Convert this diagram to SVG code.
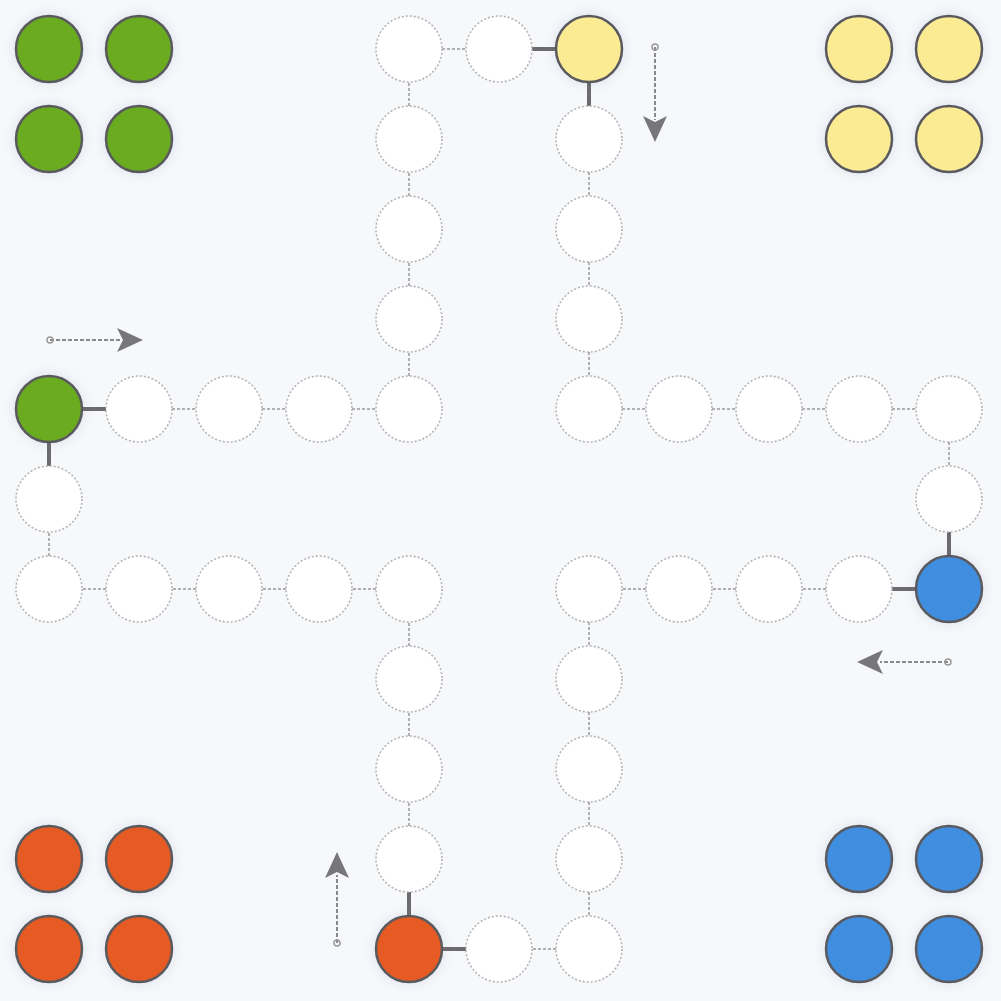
<svg xmlns="http://www.w3.org/2000/svg" width="1001" height="1001" viewBox="0 0 1001 1001">
<defs>
<style>
.f{fill:#ffffff;stroke:#b4b4b8;stroke-width:1.6;stroke-dasharray:2 2}
.s{stroke:#5a5a5e;stroke-width:2.5}
.g{fill:#6aab1f}.y{fill:#fbeb92}.b{fill:#3f8ee0}.r{fill:#e65a24}
.c{stroke:#b0b0b4;stroke-width:2;stroke-dasharray:3 2}
.d{stroke:#6c6c70;stroke-width:4}
.a{stroke:#8a8a8e;stroke-width:2;stroke-dasharray:4 2;fill:none}
.h{fill:#777779}
</style>
<filter id="sh" x="-50%" y="-50%" width="200%" height="200%"><feGaussianBlur stdDeviation="6"/></filter>
</defs>
<rect width="1001" height="1001" fill="#f7f8fa"/>
<g id="glow" fill="#dfe6f0" filter="url(#sh)">
<circle cx="49" cy="49" r="36"/><circle cx="139" cy="49" r="36"/><circle cx="49" cy="139" r="36"/><circle cx="139" cy="139" r="36"/>
<circle cx="859" cy="49" r="36"/><circle cx="949" cy="49" r="36"/><circle cx="859" cy="139" r="36"/><circle cx="949" cy="139" r="36"/>
<circle cx="49" cy="859" r="36"/><circle cx="139" cy="859" r="36"/><circle cx="49" cy="949" r="36"/><circle cx="139" cy="949" r="36"/>
<circle cx="859" cy="859" r="36"/><circle cx="949" cy="859" r="36"/><circle cx="859" cy="949" r="36"/><circle cx="949" cy="949" r="36"/>
<circle cx="49" cy="409" r="36"/><circle cx="589" cy="49" r="36"/><circle cx="949" cy="589" r="36"/><circle cx="409" cy="949" r="36"/>
</g>
<g id="connectors">
<line class="d" x1="82" y1="409" x2="106" y2="409"/>
<line class="c" x1="172" y1="409" x2="196" y2="409"/>
<line class="c" x1="262" y1="409" x2="286" y2="409"/>
<line class="c" x1="352" y1="409" x2="376" y2="409"/>
<line class="c" x1="409" y1="376" x2="409" y2="352"/>
<line class="c" x1="409" y1="286" x2="409" y2="262"/>
<line class="c" x1="409" y1="196" x2="409" y2="172"/>
<line class="c" x1="409" y1="106" x2="409" y2="82"/>
<line class="c" x1="442" y1="49" x2="466" y2="49"/>
<line class="d" x1="532" y1="49" x2="556" y2="49"/>
<line class="d" x1="589" y1="82" x2="589" y2="106"/>
<line class="c" x1="589" y1="172" x2="589" y2="196"/>
<line class="c" x1="589" y1="262" x2="589" y2="286"/>
<line class="c" x1="589" y1="352" x2="589" y2="376"/>
<line class="c" x1="622" y1="409" x2="646" y2="409"/>
<line class="c" x1="712" y1="409" x2="736" y2="409"/>
<line class="c" x1="802" y1="409" x2="826" y2="409"/>
<line class="c" x1="892" y1="409" x2="916" y2="409"/>
<line class="c" x1="949" y1="442" x2="949" y2="466"/>
<line class="d" x1="949" y1="532" x2="949" y2="556"/>
<line class="d" x1="916" y1="589" x2="892" y2="589"/>
<line class="c" x1="826" y1="589" x2="802" y2="589"/>
<line class="c" x1="736" y1="589" x2="712" y2="589"/>
<line class="c" x1="646" y1="589" x2="622" y2="589"/>
<line class="c" x1="589" y1="622" x2="589" y2="646"/>
<line class="c" x1="589" y1="712" x2="589" y2="736"/>
<line class="c" x1="589" y1="802" x2="589" y2="826"/>
<line class="c" x1="589" y1="892" x2="589" y2="916"/>
<line class="c" x1="556" y1="949" x2="532" y2="949"/>
<line class="d" x1="466" y1="949" x2="442" y2="949"/>
<line class="d" x1="409" y1="916" x2="409" y2="892"/>
<line class="c" x1="409" y1="826" x2="409" y2="802"/>
<line class="c" x1="409" y1="736" x2="409" y2="712"/>
<line class="c" x1="409" y1="646" x2="409" y2="622"/>
<line class="c" x1="376" y1="589" x2="352" y2="589"/>
<line class="c" x1="286" y1="589" x2="262" y2="589"/>
<line class="c" x1="196" y1="589" x2="172" y2="589"/>
<line class="c" x1="106" y1="589" x2="82" y2="589"/>
<line class="c" x1="49" y1="556" x2="49" y2="532"/>
<line class="d" x1="49" y1="466" x2="49" y2="442"/>
</g>
<g id="home-green"><circle class="g s" cx="49" cy="49" r="33"/><circle class="g s" cx="139" cy="49" r="33"/><circle class="g s" cx="49" cy="139" r="33"/><circle class="g s" cx="139" cy="139" r="33"/></g>
<g id="home-yellow"><circle class="y s" cx="859" cy="49" r="33"/><circle class="y s" cx="949" cy="49" r="33"/><circle class="y s" cx="859" cy="139" r="33"/><circle class="y s" cx="949" cy="139" r="33"/></g>
<g id="home-red"><circle class="r s" cx="49" cy="859" r="33"/><circle class="r s" cx="139" cy="859" r="33"/><circle class="r s" cx="49" cy="949" r="33"/><circle class="r s" cx="139" cy="949" r="33"/></g>
<g id="home-blue"><circle class="b s" cx="859" cy="859" r="33"/><circle class="b s" cx="949" cy="859" r="33"/><circle class="b s" cx="859" cy="949" r="33"/><circle class="b s" cx="949" cy="949" r="33"/></g>
<g id="start-green"><circle class="g s" cx="49" cy="409" r="33"/></g>
<g id="start-yellow"><circle class="y s" cx="589" cy="49" r="33"/></g>
<g id="start-blue"><circle class="b s" cx="949" cy="589" r="33"/></g>
<g id="start-red"><circle class="r s" cx="409" cy="949" r="33"/></g>
<g id="track">
<circle class="f" cx="139" cy="409" r="33"/><circle class="f" cx="229" cy="409" r="33"/><circle class="f" cx="319" cy="409" r="33"/><circle class="f" cx="409" cy="409" r="33"/>
<circle class="f" cx="409" cy="319" r="33"/><circle class="f" cx="409" cy="229" r="33"/><circle class="f" cx="409" cy="139" r="33"/><circle class="f" cx="409" cy="49" r="33"/>
<circle class="f" cx="499" cy="49" r="33"/>
<circle class="f" cx="589" cy="139" r="33"/><circle class="f" cx="589" cy="229" r="33"/><circle class="f" cx="589" cy="319" r="33"/><circle class="f" cx="589" cy="409" r="33"/>
<circle class="f" cx="679" cy="409" r="33"/><circle class="f" cx="769" cy="409" r="33"/><circle class="f" cx="859" cy="409" r="33"/><circle class="f" cx="949" cy="409" r="33"/>
<circle class="f" cx="949" cy="499" r="33"/>
<circle class="f" cx="859" cy="589" r="33"/><circle class="f" cx="769" cy="589" r="33"/><circle class="f" cx="679" cy="589" r="33"/><circle class="f" cx="589" cy="589" r="33"/>
<circle class="f" cx="589" cy="679" r="33"/><circle class="f" cx="589" cy="769" r="33"/><circle class="f" cx="589" cy="859" r="33"/><circle class="f" cx="589" cy="949" r="33"/>
<circle class="f" cx="499" cy="949" r="33"/>
<circle class="f" cx="409" cy="859" r="33"/><circle class="f" cx="409" cy="769" r="33"/><circle class="f" cx="409" cy="679" r="33"/><circle class="f" cx="409" cy="589" r="33"/>
<circle class="f" cx="319" cy="589" r="33"/><circle class="f" cx="229" cy="589" r="33"/><circle class="f" cx="139" cy="589" r="33"/><circle class="f" cx="49" cy="589" r="33"/>
<circle class="f" cx="49" cy="499" r="33"/>
</g>
<g id="arrows">
<line class="a" x1="50" y1="340" x2="122" y2="340"/><circle cx="50" cy="340" r="3" fill="none" stroke="#999" stroke-width="1.5"/><polygon class="h" points="143,340 117,328 123,340 117,352"/>
<line class="a" x1="655" y1="47" x2="655" y2="120"/><circle cx="655" cy="47" r="3" fill="none" stroke="#999" stroke-width="1.5"/><polygon class="h" points="655,142 643,116 655,122 667,116"/>
<line class="a" x1="948" y1="662" x2="880" y2="662"/><circle cx="948" cy="662" r="3" fill="none" stroke="#999" stroke-width="1.5"/><polygon class="h" points="857,662 883,650 877,662 883,674"/>
<line class="a" x1="337" y1="943" x2="337" y2="875"/><circle cx="337" cy="943" r="3" fill="none" stroke="#999" stroke-width="1.5"/><polygon class="h" points="337,852 325,878 337,872 349,878"/>
</g>
</svg>
